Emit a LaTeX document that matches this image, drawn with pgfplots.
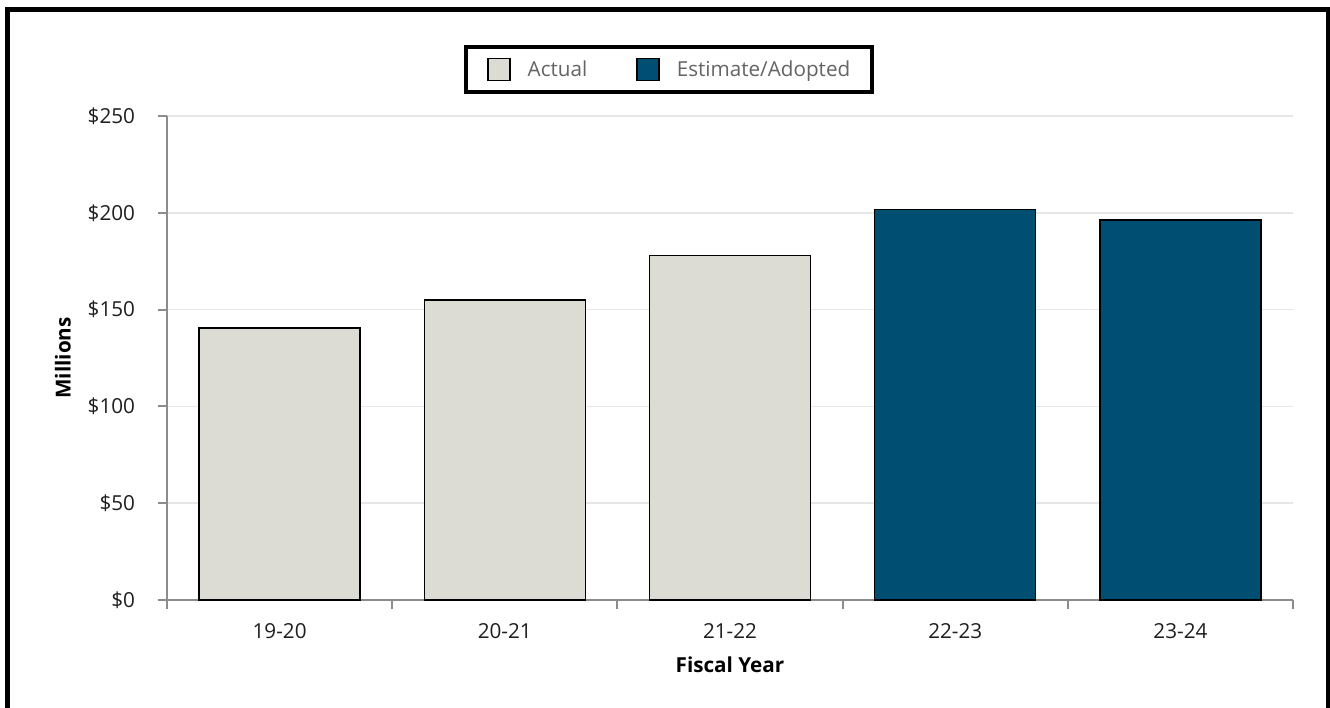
\documentclass[border=0pt]{standalone}
\usepackage{fontspec}
\setmainfont{Open Sans}
\usepackage{pgfplots}
\pgfplotsset{compat=1.18}
\definecolor{actualfill}{RGB}{220,220,213}
\definecolor{estfill}{RGB}{0,79,114}
\definecolor{axisgray}{RGB}{140,140,140}
\definecolor{gridgray}{RGB}{230,230,230}
\definecolor{legendtext}{RGB}{100,100,100}
\definecolor{ticktext}{RGB}{30,30,30}
\newcommand{\chartfont}{\fontsize{15.5}{18}\selectfont}
\begin{document}
\begin{tikzpicture}
\useasboundingbox (0pt,0pt) rectangle (997.5pt,530.25pt);
\draw[line width=3.5pt, line cap=rect] (5.85pt,-20pt) -- (5.85pt,523pt) -- (996.4pt,523pt) -- (996.4pt,-20pt);
\begin{axis}[
  at={(125.25pt,80.25pt)}, anchor=south west,
  scale only axis, width=844.5pt, height=363pt,
  xmin=-0.5, xmax=4.5, ymin=0, ymax=250,
  axis x line*=bottom, axis y line*=left,
  axis line style={axisgray, line width=1.5pt, -},
  xtick={-0.5,0.5,1.5,2.5,3.5,4.5},
  xticklabels={},
  extra x ticks={0,1,2,3,4},
  extra x tick labels={19-20,20-21,21-22,22-23,23-24},
  extra x tick style={major tick length=0pt, grid=none,
    xticklabel style={anchor=center, yshift=-23pt}},
  tick style={draw=axisgray, line width=1.5pt},
  ytick={0,50,100,150,200,250},
  yticklabels={\$0,\$50,\$100,\$150,\$200,\$250},
  major tick length=7pt,
  tick align=outside,
  ymajorgrids,
  grid style={gridgray, line width=1.2pt},
  ticklabel style={font=\chartfont, text=ticktext},
  yticklabel style={anchor=east, xshift=-13.5pt},
  xlabel={Fiscal Year}, ylabel={Millions},
  label style={font=\chartfont\bfseries, text=black},
  xlabel style={at={(axis description cs:0.5,-0.1343)}, anchor=center},
  ylabel style={at={(axis description cs:-0.0924,0.5)}, anchor=center},
  legend columns=2,
  legend style={at={(axis description cs:0.4456,1.0956)}, anchor=center,
    draw=black, line width=3pt, font=\chartfont, text=legendtext,
    inner xsep=16pt, inner ysep=8pt,
    nodes={inner xsep=0pt},
    /tikz/every odd column/.append style={column sep=12.75pt},
    /tikz/every even column/.append style={column sep=36.75pt}},
]
\addplot[ybar, bar shift=0pt, bar width=120.75pt, fill=actualfill, draw=black, line width=1.1pt,
  legend image code/.code={\draw[fill=actualfill, draw=black, line width=1.1pt] (0pt,-8.25pt) rectangle (16.5pt,8.25pt);}]
  coordinates {(0,140.6) (1,155.0) (2,178.0)};
\addlegendentry{Actual}
\addplot[ybar, bar shift=0pt, bar width=120.75pt, fill=estfill, draw=black, line width=1.1pt,
  legend image code/.code={\draw[fill=estfill, draw=black, line width=1.1pt] (0pt,-8.25pt) rectangle (16.5pt,8.25pt);}]
  coordinates {(3,201.6) (4,196.4)};
\addlegendentry{Estimate/Adopted}
\end{axis}
\end{tikzpicture}
\end{document}
